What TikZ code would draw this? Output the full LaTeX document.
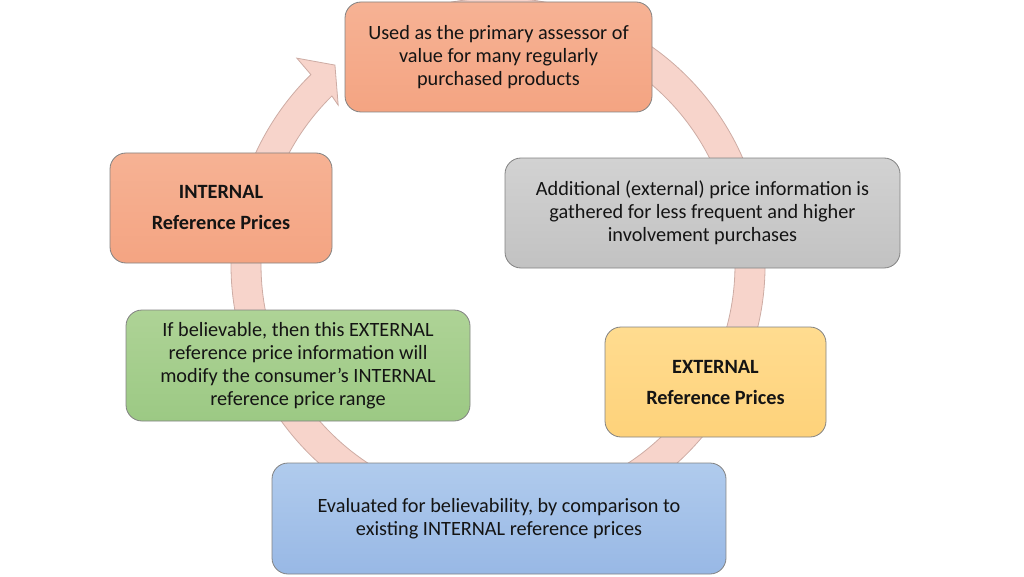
\documentclass[tikz,border=0pt]{standalone}
\usepackage{fontspec}
\setmainfont{Carlito}
\usepackage{xcolor}
\usepackage{tikz}
\usetikzlibrary{positioning}
\definecolor{ringfill}{RGB}{247,212,203}
\definecolor{ringedge}{RGB}{205,172,164}
\definecolor{boxedge}{RGB}{130,130,130}
\definecolor{txt}{RGB}{20,20,20}
\definecolor{orgtop}{RGB}{246,178,148}
\definecolor{orgbot}{RGB}{244,164,130}
\definecolor{grytop}{RGB}{210,210,210}
\definecolor{grybot}{RGB}{194,194,194}
\definecolor{grntop}{RGB}{174,211,150}
\definecolor{grnbot}{RGB}{156,201,132}
\definecolor{yeltop}{RGB}{255,220,144}
\definecolor{yelbot}{RGB}{254,210,122}
\definecolor{blutop}{RGB}{176,203,237}
\definecolor{blubot}{RGB}{152,184,229}
\tikzstyle{stage} = [rectangle, rounded corners = 12pt, draw = boxedge,
line width = 0.6pt, text = txt, align = center, inner sep = 0pt,
font = \fontsize{15.2pt}{17.25pt}\selectfont]
\tikzstyle{refbox} = [stage, font = \fontsize{15.2pt}{17.25pt}\selectfont\bfseries]

\begin{document}
\begin{tikzpicture}[x=0.75pt,y=0.75pt,>=stealth]

\useasboundingbox (0,0) rectangle (1024,576);

% The circular arrow
\begin{scope}[shift={(498,311)}]
\filldraw[fill=ringfill, draw=ringedge, line width=0.6pt]
  (100:200.25pt) arc[start angle=100, end angle=-225.5, radius=200.25pt]
  -- (134.2:216.4pt) -- (129.2:193.5pt) -- (135:169.5pt)
  -- (-225.5:177.75pt) arc[start angle=-225.5, end angle=100, radius=177.75pt]
  -- cycle;
\end{scope}

% The stages
\node[stage, top color=orgtop, bottom color=orgbot, minimum width=230.25pt,
  minimum height=82.5pt] (primary) at (498.5,519)
  {Used as the primary assessor of\\value for many regularly\\purchased products};
\node[refbox, top color=orgtop, bottom color=orgbot, minimum width=166.5pt,
  minimum height=82.5pt] (intref) at (221,368) {INTERNAL\\[6pt]Reference Prices};
\node[stage, top color=grytop, bottom color=grybot, minimum width=296.25pt,
  minimum height=82.5pt] (extinfo) at (702.5,363)
  {Additional (external) price information is\\gathered for less frequent and higher\\involvement purchases};
\node[stage, top color=grntop, bottom color=grnbot, minimum width=258pt,
  minimum height=83.25pt] (modify) at (298,210.5)
  {If believable, then this EXTERNAL\\reference price information will\\modify the consumer’s INTERNAL\\reference price range};
\node[refbox, top color=yeltop, bottom color=yelbot, minimum width=165.75pt,
  minimum height=82.5pt] (extref) at (715.5,194) {EXTERNAL\\[6pt]Reference Prices};
\node[stage, top color=blutop, bottom color=blubot, minimum width=340.5pt,
  minimum height=83.25pt] (evaluate) at (499,57.5)
  {Evaluated for believability, by comparison to\\existing INTERNAL reference prices};

\end{tikzpicture}
\end{document}
